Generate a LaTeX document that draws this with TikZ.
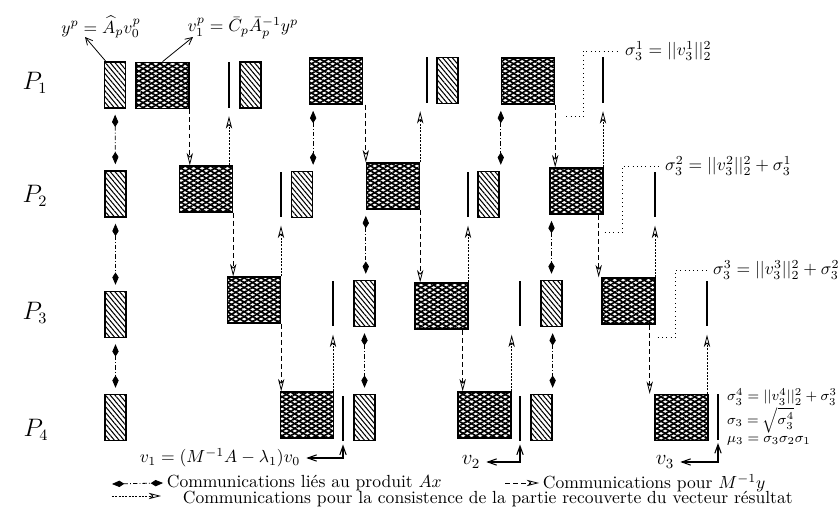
\documentclass[tikz,border=0pt]{standalone}
\usepackage{tikz}
\usetikzlibrary{arrows.meta,calc,patterns.meta}
\usepackage{amsmath}

\tikzset{
  hatchbox/.style={draw,line width=0.7pt,inner sep=0pt,minimum width=12pt,minimum height=26.2pt,
    pattern={Lines[angle=-50,distance=2.1pt,line width=0.6pt]}},
  meshbox/.style={draw,line width=0.8pt,inner sep=0pt,minimum width=30.2pt,minimum height=26.2pt,
    pattern={Lines[angle=30,distance=2.4pt,line width=0.95pt]},
    postaction={pattern={Lines[angle=-30,distance=2.4pt,line width=0.95pt]}}},
  sepbar/.style={fill=black,inner sep=0pt,minimum width=1.3pt,minimum height=26.2pt},
  axcom/.style={line width=0.45pt,dash pattern=on 2.5pt off 1.2pt on 0.5pt off 1.2pt,
    {Kite[length=7pt,width=3.6pt,inset=2.8pt]}-{Kite[length=7pt,width=3.6pt,inset=2.8pt]},
    shorten <=3.5pt,shorten >=3.5pt},
  mcom/.style={line width=0.45pt,dash pattern=on 2.8pt off 1.8pt,
    -{Stealth[open,length=7pt,width=3.6pt,inset=2pt]}},
  concom/.style={line width=0.45pt,dash pattern=on 1.2pt off 0.7pt,
    -{Stealth[open,length=7pt,width=3.6pt,inset=2pt]},shorten >=4.5pt},
  sigline/.style={line width=0.45pt,dotted},
  labarr/.style={line width=0.45pt,-{Straight Barb[length=4pt,width=4pt]}},
  vecarr/.style={line width=0.6pt,{Straight Barb[length=5pt,width=3.6pt]}-{Straight Barb[length=5pt,width=3.6pt]}},
  plab/.style={font=\fontsize{13.5}{16}\selectfont},
  smalllab/.style={anchor=west,font=\footnotesize,inner sep=1pt},
}

\begin{document}
\begin{tikzpicture}[x=0.57pt,y=-0.57pt]
\useasboundingbox (0,0) rectangle (838,516);
\node[plab] (p1) at (35,83) {$P_1$};
\node[plab] (p2) at (35,196) {$P_2$};
\node[plab] (p3) at (35,313) {$P_3$};
\node[plab] (p4) at (36,430) {$P_4$};
\node[hatchbox] (h1a) at (115,85) {};
\node[meshbox] (m1a) at (162.5,85.5) {};
\node[sepbar] (b1a) at (229,85) {};
\node[hatchbox] (h1b) at (250.5,85) {};
\node[meshbox] (m1b) at (336,81) {};
\node[sepbar] (b1b) at (427,80) {};
\node[hatchbox] (h1c) at (447.5,80.5) {};
\node[meshbox] (m1c) at (528,81) {};
\node[sepbar] (b1c) at (603,80) {};
\node[hatchbox] (h2a) at (115.5,194) {};
\node[meshbox] (m2a) at (206,189) {};
\node[sepbar] (b2a) at (281,194.5) {};
\node[hatchbox] (h2b) at (302,194.5) {};
\node[meshbox] (m2b) at (393,186) {};
\node[sepbar] (b2b) at (468,194.5) {};
\node[hatchbox] (h2c) at (488.5,194.5) {};
\node[meshbox] (m2c) at (576.5,191) {};
\node[sepbar] (b2c) at (655,194.5) {};
\node[hatchbox] (h3a) at (115.5,314.5) {};
\node[meshbox] (m3a) at (254,300) {};
\node[sepbar] (b3a) at (333,303.5) {};
\node[hatchbox] (h3b) at (364.5,303.5) {};
\node[meshbox] (m3b) at (441.5,306) {};
\node[sepbar] (b3b) at (520,303.5) {};
\node[hatchbox] (h3c) at (551.5,303.5) {};
\node[meshbox] (m3c) at (628.5,301) {};
\node[sepbar] (b3c) at (707,303.5) {};
\node[hatchbox] (h4a) at (115.5,417.5) {};
\node[meshbox] (m4a) at (307,415) {};
\node[sepbar] (b4a) at (343,418.5) {};
\node[hatchbox] (h4b) at (364.5,417.5) {};
\node[meshbox] (m4b) at (484.5,415) {};
\node[sepbar] (b4b) at (520,418.5) {};
\node[hatchbox] (h4c) at (541.5,417.5) {};
\node[meshbox] (m4c) at (681.5,417.5) {};
\node[sepbar] (b4c) at (718,417) {};
\node (ylab) at (101,27) {$y^p=\widehat{A}_p v_0^p$};
\node (vlab) at (243,28) {$v_1^p=\bar{C}_p\bar{A}_p^{-1}y^p$};
\coordinate (ytip) at (85,37);
\coordinate (vtip) at (193,37);
\draw[labarr] ($(h1a.north west)+(2,0)$) -- (ytip);
\draw[labarr] (m1a.north) -- (vtip);
\draw[axcom] (h1a) -- (h2a);
\draw[axcom] (h2b.north east |- m1b.south) -- (h2b.north east);
\draw[axcom] (m1c.south west) -- (m1c.south west |- h2c.north);
\draw[axcom] (h2a) -- (h3a);
\draw[axcom] (m2b.south west) -- (m2b.south west |- h3b.north);
\draw[axcom] (h3c.north |- m2c.south) -- (h3c.north);
\draw[axcom] (h3a) -- (h4a);
\draw[axcom] (h3b) -- (h4b);
\draw[axcom] (h4c.north east |- h3c.south) -- (h4c.north east);
\draw[mcom] (m1a.south east) -- (m1a.south east |- m2a.north);
\draw[mcom] (m2b.north west |- m1b.south) -- (m2b.north west);
\draw[mcom] (m1c.south east) -- (m1c.south east |- m2c.north);
\draw[mcom] (m2a.south east) -- (m2a.south east |- m3a.north);
\draw[mcom] (m2b.south east) -- (m2b.south east |- m3b.north);
\draw[mcom] ($(m2c.south east)+(-5,0)$) -- ($(m2c.south east |- m3c.north)+(-5,0)$);
\draw[mcom] (m3a.south east) -- (m3a.south east |- m4a.north);
\draw[mcom] ($(m3b.south east)+(-6,0)$) -- ($(m3b.south east |- m4b.north)+(-6,0)$);
\draw[mcom] ($(m3c.south east)+(-6,0)$) -- ($(m3c.south east |- m4c.north)+(-6,0)$);
\draw[concom] (b1a.south |- m2a.north) -- (b1a.south);
\draw[concom] (m2b.north east) -- (m2b.north east |- b1b.south);
\draw[concom] (b1c.south |- m2c.north) -- (b1c.south);
\draw[concom] (b2a.south |- m3a.north) -- (b2a.south);
\draw[concom] (b2b.south |- m3b.north) -- (b2b.south);
\draw[concom] (b2c.south |- m3c.north) -- (b2c.south);
\draw[concom] (b3a.south |- m4a.north) -- (b3a.south);
\draw[concom] (m4b.north east) -- (m4b.north east |- b3b.south);
\draw[concom] (b3c.south |- m4c.north) -- (b3c.south);
\node[anchor=west] (sig1) at (619,51) {$\sigma_3^1=||v_3^1||_2^2$};
\node[anchor=west] (sig2) at (659,166) {$\sigma_3^2=||v_3^2||_2^2+\sigma_3^1$};
\node[anchor=west] (sig3) at (707,270) {$\sigma_3^3=||v_3^3||_2^2+\sigma_3^2$};
\draw[sigline] ($(m1c.south east)+(11,12)$) -| ($(sig1.west)+(-36,0)$) -- (sig1.west);
\draw[sigline] ($(m2c.south east)+(1,18)$) -| ($(sig2.west)+(-37,0)$) -- (sig2.west);
\draw[sigline] ($(m3c.south east)+(2,13)$) -| ($(sig3.west)+(-32,0)$) -- (sig3.west);
\node[smalllab] (sig4) at (725,397) {$\sigma_3^4=||v_3^4||_2^2+\sigma_3^3$};
\node[smalllab] (sig5) at (725,420) {$\sigma_3=\sqrt{\sigma_3^4}$};
\node[smalllab] (mu3) at (725,441) {$\mu_3=\sigma_3\sigma_2\sigma_1$};
\node (v1lab) at (220,458) {$v_1=(M^{-1}A-\lambda_1)v_0$};
\node[font=\large] (v2lab) at (471,462) {$v_2$};
\node[font=\large] (v3lab) at (665,462) {$v_3$};
\draw[vecarr] (v1lab.east) -- (b4a.south |- v1lab.east) -- ([yshift=-1.5pt]b4a.south);
\draw[vecarr] (v2lab.east) -- (b4b.south |- v2lab.east) -- ([yshift=-1.5pt]b4b.south);
\draw[vecarr] (v3lab.east) -- (b4c.south |- v3lab.east) -- ([yshift=-1.5pt]b4c.south);
\coordinate (legA) at (112,484);
\node[anchor=west,inner sep=2pt] (leg1) at (163,483) {Communications liés au produit $Ax$};
\draw[axcom,shorten <=0pt,shorten >=0pt] (legA) -- (leg1.west);
\coordinate (legB) at (112,496);
\coordinate (legBtip) at (161,496);
\node[anchor=west,inner sep=2pt] (leg2) at (179,499) {Communications pour la consistence de la partie recouverte du vecteur résultat};
\draw[concom,shorten >=0pt] (legB) -- (legBtip);
\coordinate (legC) at (505,483);
\node[anchor=west,inner sep=2pt] (leg3) at (539,483) {Communications pour $M^{-1}y$};
\draw[mcom] (legC) -- (leg3.west);
\end{tikzpicture}
\end{document}
